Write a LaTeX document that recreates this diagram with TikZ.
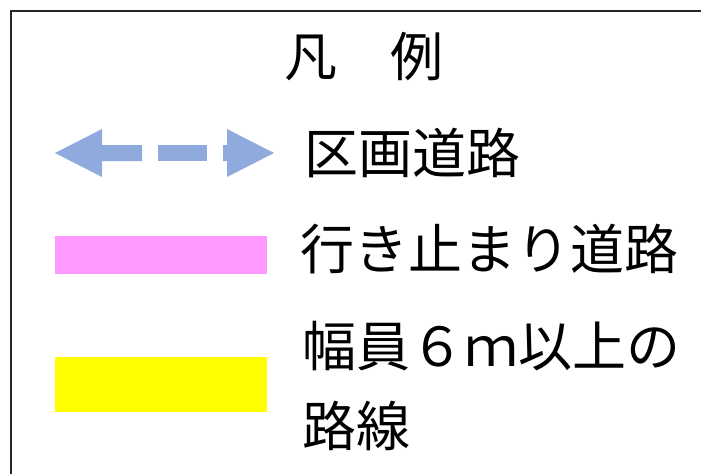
\documentclass[tikz,border=0pt]{standalone}
\usepackage{fontspec}
\setmainfont{Noto Sans CJK JP}
\definecolor{roadblue}{HTML}{8FAADC}
\definecolor{deadpink}{HTML}{FF99FF}
\definecolor{wideyellow}{HTML}{FFFF00}
\begin{document}
\begin{tikzpicture}[x=1pt,y=-1pt,
  lbl/.style={anchor=base west,inner sep=0pt,font=\fontsize{54}{60}\selectfont},
  frameline/.style={draw=black!85,line width=1.8pt}]
\useasboundingbox (0,0) rectangle (701,474);
% frame
\coordinate (fbl) at (11,474);
\coordinate (ftl) at (11,11);
\coordinate (ftr) at (701,11);
\draw[frameline] (fbl) -- (ftl) -- (ftr);
% title
\node[anchor=base,inner sep=0pt,font=\fontsize{53}{60}\selectfont] (title) at (364,76) {凡　例};
% blue dashed double arrow
\fill[roadblue] (55,153) -- (102,129) -- (102,145) -- (142,145) -- (142,161) -- (102,161) -- (102,177) -- cycle;
\fill[roadblue] (158,145) rectangle (207,161);
\fill[roadblue] (223,145) -- (227,145) -- (227,129) -- (274,153) -- (227,177) -- (227,161) -- (223,161) -- cycle;
% pink bar
\fill[deadpink] (55,236) rectangle (267,274);
% yellow bar
\fill[wideyellow] (55,357) rectangle (267,412);
% labels
\node[lbl] (l1) at (304,173) {区画道路};
\node[lbl] (l2) at (300,269) {行き止まり道路};
\node[lbl] (l3) at (302,366) {幅員６ｍ以上の};
\node[lbl] (l4) at (302,446) {路線};
\end{tikzpicture}
\end{document}
